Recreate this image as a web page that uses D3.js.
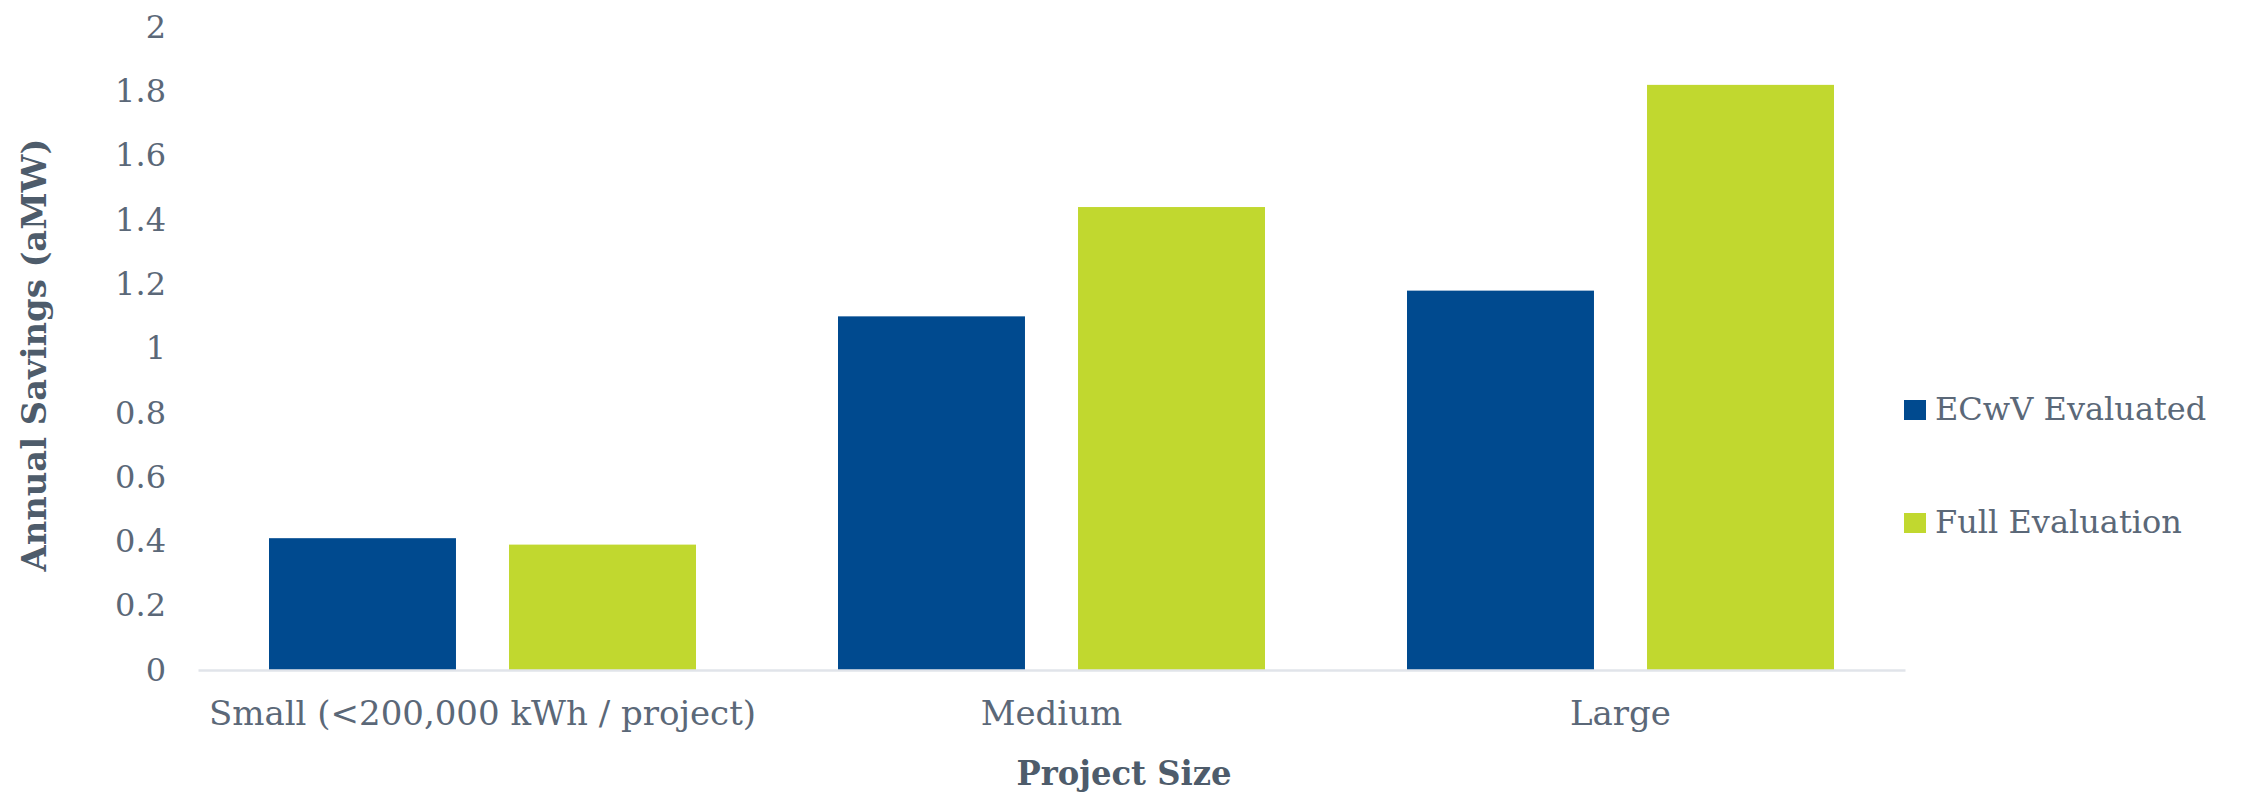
<!DOCTYPE html>
<html>
<head>
<meta charset="utf-8">
<script src="https://cdn.jsdelivr.net/npm/d3@7"></script>
<style>
  html, body { margin: 0; padding: 0; background: #ffffff; }
  svg { display: block; }
</style>
</head>
<body>
<svg id="chart" width="2252" height="795"></svg>
<script>
const categories = ["Small (<200,000 kWh / project)", "Medium", "Large"];
const seriesNames = ["ECwV Evaluated", "Full Evaluation"];
const ecwvValues = [0.41, 1.10, 1.18];
const fullValues = [0.39, 1.44, 1.82];
const yTicks = [0, 0.2, 0.4, 0.6, 0.8, 1, 1.2, 1.4, 1.6, 1.8, 2];
const colors = ["#004A8F", "#C1D82F"];

(function () {
const textColor = "#5B6878";
const titleColor = "#4E5C6B";
const fontFam = "'DejaVu Serif', serif";

const svg = d3.select("#chart");
const plotLeft = 198, plotRight = 1905, plotTop = 27, plotBottom = 670;

const x0 = d3.scaleBand().domain(categories).range([plotLeft, plotRight]).padding(0);
const x1 = d3.scaleBand().domain(seriesNames)
  .range([71, x0.bandwidth() - 71]).paddingInner(0.221).paddingOuter(0);
const y = d3.scaleLinear().domain([0, 2]).range([plotBottom, plotTop]);

const rows = categories.map((c, i) => ({ cat: c, vals: [ecwvValues[i], fullValues[i]] }));

// bars
const groups = svg.append("g").selectAll("g").data(rows).join("g")
  .attr("transform", d => `translate(${x0(d.cat)},0)`);
groups.selectAll("rect")
  .data(d => d.vals.map((v, j) => ({ name: seriesNames[j], v, j })))
  .join("rect")
  .attr("x", d => x1(d.name))
  .attr("width", x1.bandwidth())
  .attr("y", d => y(d.v))
  .attr("height", d => y(0) - y(d.v))
  .attr("fill", d => colors[d.j]);

// x axis
const xAxis = svg.append("g")
  .attr("transform", `translate(0,${plotBottom})`)
  .call(d3.axisBottom(x0).tickSize(0).tickSizeOuter(0).tickPadding(31));
xAxis.select(".domain").attr("stroke", "#E1E4EA").attr("stroke-width", 2.5);
xAxis.selectAll("text")
  .attr("fill", textColor)
  .style("font-family", fontFam)
  .style("font-size", "34px");

// y axis
const yAxis = svg.append("g")
  .attr("transform", `translate(${plotLeft},0)`)
  .call(d3.axisLeft(y).tickValues(yTicks).tickSize(0).tickPadding(32)
    .tickFormat(d => d3.format("")(d)));
yAxis.select(".domain").remove();
yAxis.selectAll("text")
  .attr("fill", textColor)
  .style("font-family", fontFam)
  .style("font-size", "32px");

// axis titles
svg.append("text")
  .attr("x", 1124).attr("y", 785)
  .attr("text-anchor", "middle")
  .attr("fill", titleColor)
  .style("font-family", fontFam)
  .style("font-weight", "bold")
  .style("font-size", "34px")
  .attr("textLength", 215)
  .attr("lengthAdjust", "spacingAndGlyphs")
  .text("Project Size");

svg.append("text")
  .attr("transform", "translate(46,355) rotate(-90)")
  .attr("text-anchor", "middle")
  .attr("fill", titleColor)
  .style("font-family", fontFam)
  .style("font-weight", "bold")
  .style("font-size", "34px")
  .attr("textLength", 433)
  .attr("lengthAdjust", "spacingAndGlyphs")
  .text("Annual Savings (aMW)");

// legend
const legendY = [420, 533];
const legend = svg.append("g").selectAll("g").data(seriesNames).join("g")
  .attr("transform", (d, i) => `translate(1904,${legendY[i]})`);
legend.append("rect")
  .attr("x", 0).attr("y", -20).attr("width", 22).attr("height", 20)
  .attr("fill", (d, i) => colors[i]);
legend.append("text")
  .attr("x", 31).attr("y", 0)
  .attr("fill", textColor)
  .style("font-family", fontFam)
  .style("font-size", "32px")
  .text(d => d);
})();
</script>
</body>
</html>
